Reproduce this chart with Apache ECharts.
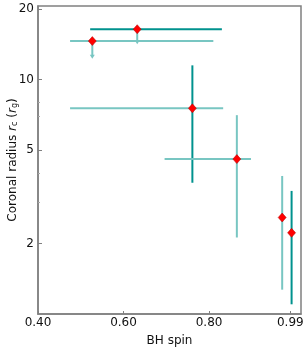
<!DOCTYPE html>
<html>
<head>
<meta charset="utf-8">
<script src="https://cdn.jsdelivr.net/npm/echarts@6/dist/echarts.min.js"></script>
<style>html,body{margin:0;padding:0;background:#fff;}#c{width:306px;height:347px;}</style>
</head>
<body>
<div id="c"></div>
<script>
// ---- data ----
const spin   = [0.527, 0.632, 0.761, 0.865, 0.971, 0.993];
const spinLo = [0.475, 0.522, 0.475, 0.696, null, null];
const spinHi = [0.810, 0.830, 0.833, 0.898, null, null];
const rc     = [14.6, 16.4, 7.54, 4.58, 2.58, 2.22];
const rcLo   = [12.4, 14.3, 3.63, 2.12, 1.27, 1.10];
const rcHi   = [null, null, 11.5, 7.05, 3.88, 3.35];
const isUpperLimit = [true, true, false, false, false, false];
const xTicks = [0.40, 0.60, 0.80, 0.99];
const yTicks = [2, 5, 10, 20];
const yMinorTicks = [3, 4, 7, 8];

// ---- styles ----
const LIGHT = '#78c6c2', DARK = '#00928e';
const xBarColors = [LIGHT, DARK, LIGHT, LIGHT, LIGHT, LIGHT];
const yBarColors = [LIGHT, LIGHT, DARK, LIGHT, LIGHT, DARK];
const AX = '#808080';
const FONT = 'DejaVu Sans';

const chart = echarts.init(document.getElementById('c'), null, {renderer: 'canvas'});

function renderBars(params, api) {
  const i = params.dataIndex;
  const children = [];
  if (spinLo[i] != null && spinHi[i] != null) {
    const a = api.coord([spinLo[i], rc[i]]);
    const b = api.coord([spinHi[i], rc[i]]);
    children.push({type: 'line', shape: {x1: a[0], y1: a[1], x2: b[0], y2: b[1]},
      style: {stroke: xBarColors[i], lineWidth: 2}});
  }
  const top = api.coord([spin[i], rcHi[i] != null ? rcHi[i] : rc[i]]);
  const bot = api.coord([spin[i], rcLo[i]]);
  if (isUpperLimit[i]) {
    children.push({type: 'line', shape: {x1: top[0], y1: top[1], x2: bot[0], y2: bot[1] - 2},
      style: {stroke: yBarColors[i], lineWidth: 2}});
    children.push({type: 'polygon', shape: {points: [[bot[0] - 2.5, bot[1] - 3], [bot[0] + 2.5, bot[1] - 3], [bot[0], bot[1] + 1]]},
      style: {fill: yBarColors[i]}});
  } else {
    children.push({type: 'line', shape: {x1: top[0], y1: top[1], x2: bot[0], y2: bot[1]},
      style: {stroke: yBarColors[i], lineWidth: 2}});
  }
  return {type: 'group', children};
}

const yBase = {
  type: 'log', logBase: 10, min: 1, max: 20.6,
};

chart.setOption({
  animation: false,
  grid: {left: 38, right: 5, top: 6, bottom: 33, show: true, borderColor: AX, borderWidth: 1.5,
    containLabel: false, outerBoundsMode: 'none'},
  xAxis: {
    type: 'value', min: 0.40, max: 1.015,
    name: 'BH spin', nameLocation: 'middle', nameGap: 21,
    nameTextStyle: {fontFamily: FONT, fontSize: 12, color: '#111'},
    axisLine: {show: true, lineStyle: {color: AX, width: 1.5}},
    axisTick: {show: true, inside: true, length: 3, lineStyle: {color: AX}, customValues: xTicks},
    axisLabel: {fontFamily: FONT, fontSize: 12, color: '#111', margin: 3, customValues: xTicks,
      formatter: v => Number(v).toFixed(2)},
    splitLine: {show: false}
  },
  yAxis: [
    Object.assign({}, yBase, {
      name: '{n|Coronal radius }{i|r}{s|c}{n| (}{i|r}{s|g}{n|)}',
      nameLocation: 'middle', nameGap: 19, nameRotate: 90,
      nameMoveOverlap: false,
      nameTextStyle: {fontFamily: FONT, fontSize: 12, color: '#111',
        rich: {
          n: {fontFamily: FONT, fontSize: 12, color: '#111'},
          i: {fontFamily: FONT, fontSize: 12, fontStyle: 'italic', color: '#111'},
          s: {fontFamily: FONT, fontSize: 8, color: '#111', verticalAlign: 'bottom', padding: [5, 0, 0, 0]}
        }},
      axisLine: {show: true, lineStyle: {color: AX, width: 1.5}},
      axisTick: {show: true, inside: true, length: 4, lineStyle: {color: AX}, customValues: yTicks},
      axisLabel: {fontFamily: FONT, fontSize: 12, color: '#111', margin: 4, customValues: yTicks},
      splitLine: {show: false}
    }),
    Object.assign({}, yBase, {
      position: 'left',
      axisLine: {show: false},
      axisTick: {show: true, inside: true, length: 2, lineStyle: {color: '#aaaaaa'}, customValues: yMinorTicks},
      axisLabel: {show: false},
      splitLine: {show: false}
    })
  ],
  series: [
    {
      type: 'custom', renderItem: renderBars, z: 2,
      data: spin.map((x, i) => [x, rc[i]]),
      encode: {x: 0, y: 1}, clip: false, silent: true
    },
    {
      type: 'scatter', z: 5, symbol: 'diamond', symbolSize: [8, 9],
      itemStyle: {color: '#ff0000', borderColor: '#b00000', borderWidth: 0.5, opacity: 1},
      data: spin.map((x, i) => [x, rc[i]]), silent: true
    }
  ]
});
</script>
</body>
</html>
